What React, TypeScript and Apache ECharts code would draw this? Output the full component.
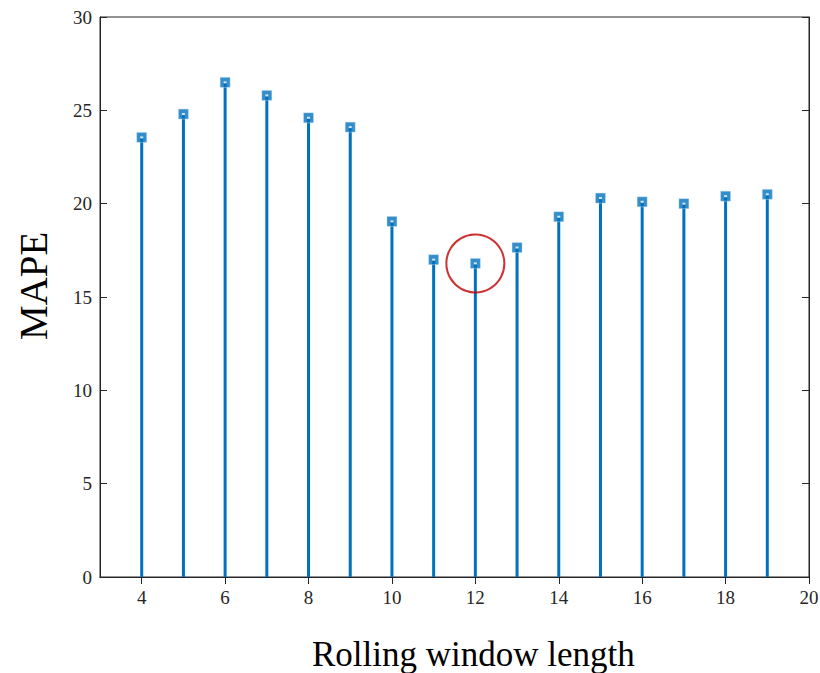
import React, { useEffect, useRef } from "react";
import * as echarts from "echarts";

const windowLengths = [4, 5, 6, 7, 8, 9, 10, 11, 12, 13, 14, 15, 16, 17, 18, 19];
const mapeValues = [23.55, 24.8, 26.5, 25.8, 24.6, 24.1, 19.05, 17.0, 16.8, 17.65, 19.3, 20.3, 20.1, 20.0, 20.4, 20.5];
const xTicks = [4, 6, 8, 10, 12, 14, 16, 18, 20];
const highlightWindow = 12;
const xTitle = "Rolling window length";
const yTitle = "MAPE";

export default function App() {
  const ref = useRef<HTMLDivElement>(null);
  useEffect(() => {
    const chart = echarts.init(ref.current!, null, { renderer: "svg" });
    const pts = windowLengths.map((x, i) => [x, mapeValues[i]]);
    const hi = pts.filter((p) => p[0] === highlightWindow);
    const font = "Liberation Serif";
    const axisLine = { show: true, lineStyle: { color: "#262626", width: 1 } };
    chart.setOption({
      animation: false,
      grid: {
        left: 100, right: 11, top: 17, bottom: 96,
        outerBoundsMode: "none",
        show: true, borderColor: "#262626", borderWidth: 1, backgroundColor: "#fff",
      },
      graphic: [
        {
          type: "text", left: 312, top: 637,
          style: { text: xTitle, fontFamily: font, fontSize: 35, fill: "#000" },
        },
        {
          type: "text", x: 14, y: 340, rotation: Math.PI / 2,
          style: { text: yTitle, fontFamily: font, fontSize: 39, fill: "#000" },
        },
      ],
      xAxis: [
        {
          type: "value", min: 3, max: 20, position: "bottom",
          axisLine,
          axisTick: { show: true, inside: true, length: 7, customValues: xTicks, lineStyle: { color: "#262626" } },
          axisLabel: { customValues: xTicks, fontFamily: font, fontSize: 19, color: "#262626", margin: 11 },
          splitLine: { show: false },
        },
        {
          type: "value", min: 3, max: 20, position: "top",
          axisLine,
          axisTick: { show: true, inside: true, length: 7, customValues: xTicks, lineStyle: { color: "#262626" } },
          axisLabel: { show: false },
          splitLine: { show: false },
        },
      ],
      yAxis: [
        {
          type: "value", min: 0, max: 30, interval: 5, position: "left",
          axisLine,
          axisTick: { show: true, inside: true, length: 7, lineStyle: { color: "#262626" } },
          axisLabel: { fontFamily: font, fontSize: 19, color: "#262626", margin: 8 },
          splitLine: { show: false },
        },
        {
          type: "value", min: 0, max: 30, interval: 5, position: "right",
          axisLine,
          axisTick: { show: true, inside: true, length: 7, lineStyle: { color: "#262626" } },
          axisLabel: { show: false },
          splitLine: { show: false },
        },
      ],
      series: [
        {
          type: "bar", data: pts, barWidth: 3, xAxisIndex: 0, yAxisIndex: 0,
          itemStyle: { color: "#0072BD" }, silent: true,
        },
        {
          type: "scatter", data: pts, symbol: "rect", symbolSize: 10, xAxisIndex: 0, yAxisIndex: 0,
          itemStyle: { color: "#0072BD", borderColor: "#cfe3f3", borderWidth: 0.5 }, z: 3,
        },
        {
          type: "scatter", data: pts, symbol: "rect", symbolSize: [3, 2], xAxisIndex: 0, yAxisIndex: 0,
          itemStyle: { color: "#fff" }, z: 4,
        },
        {
          type: "scatter", data: hi, symbol: "circle", symbolSize: 58, xAxisIndex: 0, yAxisIndex: 0,
          itemStyle: { color: "rgba(0,0,0,0)", borderColor: "#C00000", borderWidth: 2 }, z: 5,
        },
      ],
    });
    return () => chart.dispose();
  }, []);
  return (
    <div
      ref={ref}
      style={{ position: "absolute", left: 0, top: 0, width: 820, height: 673 }}
    />
  );
}
